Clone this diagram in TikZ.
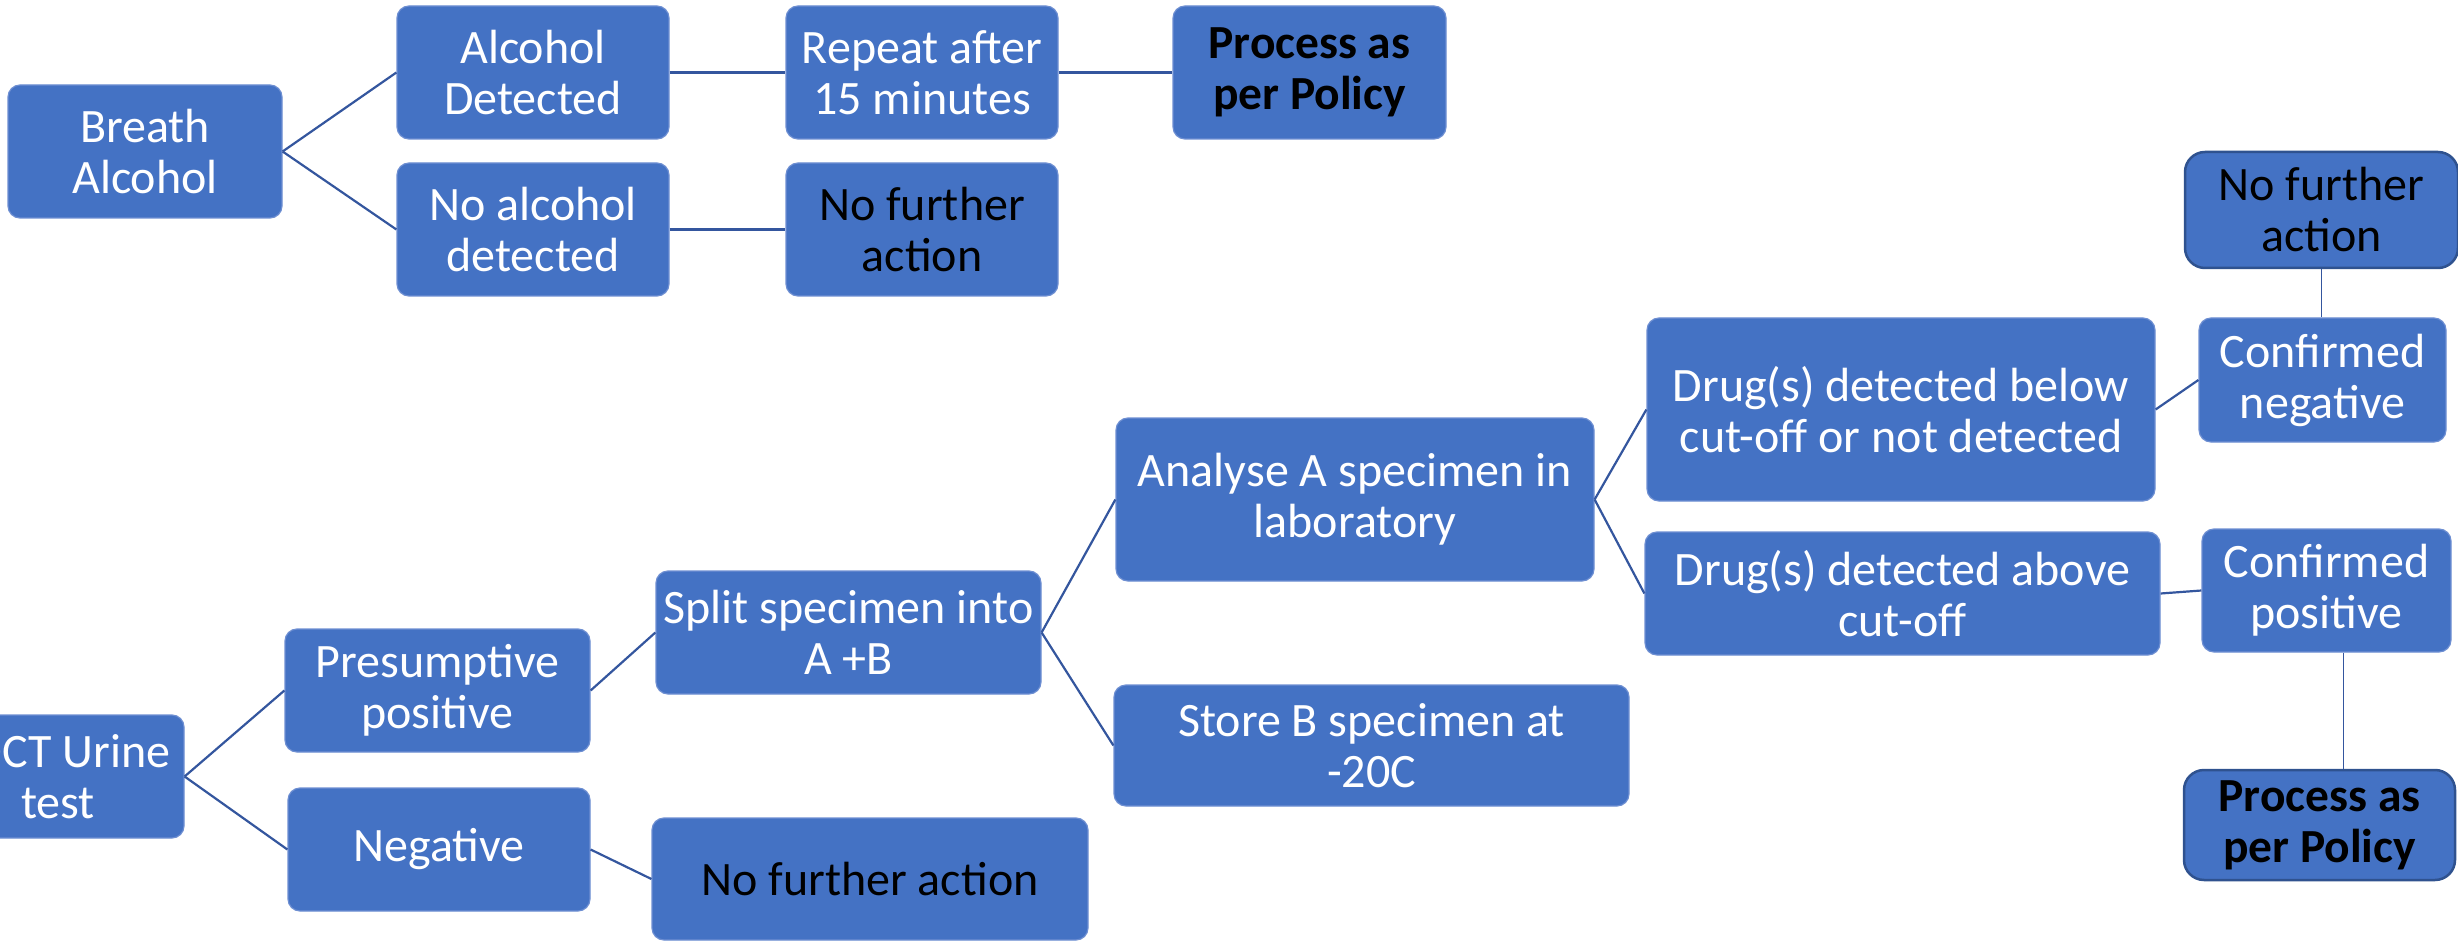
\documentclass[tikz,border=0pt]{standalone}
\usepackage{fontspec}
\setmainfont{Carlito}
\definecolor{boxfill}{RGB}{68,114,196}
\definecolor{boxedge}{RGB}{110,143,210}
\definecolor{darkedge}{RGB}{47,82,143}
\definecolor{linkcol}{RGB}{52,86,158}
\tikzset{
  box/.style={rectangle, rounded corners=12pt, fill=boxfill, draw=boxedge, line width=1.2pt,
    text=white, align=center, inner sep=0pt,
    font=\fontsize{48}{51}\selectfont},
  blackbox/.style={box, text=black},
  boldbox/.style={box, text=black, font=\fontsize{47.5}{51}\selectfont\bfseries},
  darkbox/.style={draw=darkedge, line width=2.5pt, rounded corners=20pt},
  link/.style={draw=linkcol, line width=2.2pt},
  thinlink/.style={draw=linkcol, line width=1.5pt}
}
\begin{document}
\begin{tikzpicture}[x=1pt,y=-1pt]
\useasboundingbox (0,0) rectangle (2458,941);
\begin{scope}
\clip (0,0) rectangle (2458,941);
% Breath alcohol branch
\node[box, minimum width=274pt, minimum height=133pt] (breath) at (145,151.5) {Breath\\Alcohol};
\node[box, minimum width=272pt, minimum height=133pt] (alcdet) at (533,72.5) {Alcohol\\Detected};
\node[box, minimum width=272pt, minimum height=133pt] (repeat) at (922,72.5) {Repeat after\\15 minutes};
\node[boldbox, minimum width=273pt, minimum height=133pt] (procA) at (1309.5,72.5) {Process as\\per Policy};
\node[box, minimum width=272pt, minimum height=133pt] (noalc) at (533,229.5) {No alcohol\\detected};
\node[blackbox, minimum width=272pt, minimum height=133pt] (nfaA) at (922,229.5) {No further\\action};
% Urine test branch
\node[box, minimum width=252pt, minimum height=123pt] (poct) at (58,776.5) {POCT Urine\\test};
\node[box, minimum width=305pt, minimum height=123pt] (presum) at (437.5,690.5) {Presumptive\\positive};
\node[box, minimum width=302pt, minimum height=123pt] (neg) at (439,849.5) {Negative};
\node[box, minimum width=385pt, minimum height=123pt] (split) at (848.5,632.5) {Split specimen into\\A +B};
\node[blackbox, minimum width=436pt, minimum height=122pt] (nfaB) at (870,879) {No further action};
\node[box, minimum width=478pt, minimum height=163pt] (analyse) at (1355,499.5) {Analyse A specimen in\\laboratory};
\node[box, minimum width=515pt, minimum height=121pt] (store) at (1371.5,745.5) {Store B specimen at\\-20C};
\node[box, minimum width=508pt, minimum height=183pt] (below) at (1901,409.5) {Drug(s) detected below\\cut-off or not detected};
\node[box, minimum width=515pt, minimum height=123pt] (above) at (1902.5,593.5) {Drug(s) detected above\\cut-off};
\node[box, minimum width=247pt, minimum height=124pt] (cneg) at (2322.5,380) {Confirmed\\negative};
\node[box, minimum width=249pt, minimum height=123pt] (cpos) at (2326.5,590.5) {Confirmed\\positive};
\node[blackbox, darkbox, minimum width=273pt, minimum height=116pt] (nfaC) at (2321.5,210) {No further\\action};
\node[boldbox, darkbox, minimum width=271pt, minimum height=110pt] (procB) at (2319.5,825) {Process as\\per Policy};
\end{scope}
% connectors
\draw[link] (breath.east) -- (alcdet.west);
\draw[link] (breath.east) -- (noalc.west);
\draw[link] (alcdet.east) -- (repeat.west);
\draw[link] (repeat.east) -- (procA.west);
\draw[link] (noalc.east) -- (nfaA.west);
\draw[link] (poct.east) -- (presum.west);
\draw[link] (poct.east) -- (neg.west);
\draw[link] (presum.east) -- (split.west);
\draw[link] (neg.east) -- (nfaB.west);
\draw[link] (split.east) -- (analyse.west);
\draw[link] (split.east) -- (store.west);
\draw[link] (analyse.east) -- (below.west);
\draw[link] (analyse.east) -- (above.west);
\draw[link] (below.east) -- (cneg.west);
\draw[link] (above.east) -- (cpos.west);
\draw[thinlink] (nfaC.south) -- (nfaC.south |- cneg.north);
\draw[thinlink] ([xshift=17pt]cpos.south) -- ([xshift=17pt]cpos.south |- procB.north);
\end{tikzpicture}
\end{document}
